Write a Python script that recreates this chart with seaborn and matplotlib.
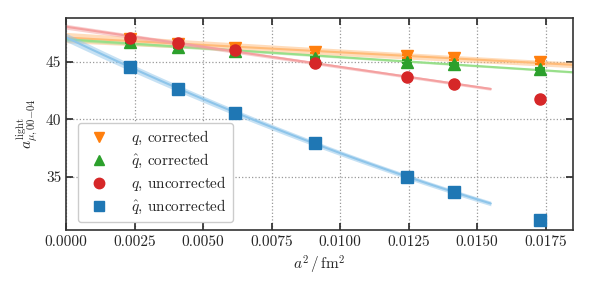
import matplotlib
matplotlib.use("Agg")
import matplotlib.pyplot as plt
import numpy as np
import seaborn as sns
from matplotlib.lines import Line2D
from matplotlib.ticker import MultipleLocator, FormatStrFormatter

# lattice spacings a^2 / fm^2
a2 = [0.00234, 0.00409, 0.00617, 0.00909, 0.01244, 0.01416, 0.01730]

# values
q_corr = [47.00, 46.52, 46.17, 45.88, 45.47, 45.31, 44.97]
qhat_corr = [46.75, 46.30, 45.96, 45.32, 45.00, 44.80, 44.38]
q_uncorr = [47.09, 46.65, 46.04, 44.90, 43.68, 43.07, 41.76]
qhat_uncorr = [44.57, 42.65, 40.57, 37.96, 35.00, 33.70, 31.26]
err = [0.12, 0.12, 0.12, 0.12, 0.12, 0.12, 0.12]

labels = [r"$q$, corrected", r"$\hat{q}$, corrected",
          r"$q$, uncorrected", r"$\hat{q}$, uncorrected"]

sns.set_style("ticks")
plt.rcParams["font.family"] = "serif"
plt.rcParams["font.serif"] = ["cmr10", "DejaVu Serif"]
plt.rcParams["mathtext.fontset"] = "cm"
plt.rcParams["axes.formatter.use_mathtext"] = True
plt.rcParams["font.size"] = 11

fig = plt.figure(figsize=(5.91, 2.92), dpi=100)
ax = fig.add_axes([0.1117, 0.2123, 0.8578, 0.7261])

a2 = np.array(a2)
# (values, colour, marker, fit colour, points in fit, fit degree, band)
series = [
    (q_corr, "tab:orange", "v", "#ffbb78", 7, 1, 0.25),
    (qhat_corr, "tab:green", "^", "#98df8a", 7, 1, 0.08),
    (q_uncorr, "tab:red", "o", "#f4a0a0", 6, 1, 0.12),
    (qhat_uncorr, "tab:blue", "s", "#8ec5ea", 6, 2, 0.2),
]

# fits (lines with bands) drawn first
for y, col, mk, lcol, npts, deg, band in series:
    y = np.array(y)
    coef = np.polyfit(a2[:npts], y[:npts], deg)
    xmax = 0.0185 if npts == 7 else 0.0155
    xf = np.linspace(0, xmax, 100)
    yf = np.polyval(coef, xf)
    w = band * (1 + 0.8 * (1 - xf / xmax) ** 2)
    ax.fill_between(xf, yf - w, yf + w, color=lcol, alpha=0.5, lw=0, zorder=2)
    sns.lineplot(x=xf, y=yf, ax=ax, color=lcol, lw=1.5, zorder=2)

for (y, col, mk, lcol, npts, deg, band), lab in zip(series, labels):
    ax.errorbar(a2, y, yerr=err, fmt=mk, color=col, ms=8, capsize=3.5,
                capthick=1.5, elinewidth=1.2, zorder=4, label=lab)

ax.set_xlim(0, 0.0185)
ax.set_ylim(30.4, 48.8)
ax.xaxis.set_major_locator(MultipleLocator(0.0025))
ax.xaxis.set_major_formatter(FormatStrFormatter("%.4f"))
ax.yaxis.set_major_locator(MultipleLocator(5))
ax.yaxis.set_major_formatter(FormatStrFormatter("%d"))
ax.tick_params(direction="in", top=True, right=True, length=5, width=1.2,
               labelsize=11)
for s in ax.spines.values():
    s.set_linewidth(1.2)
    s.set_color("#333333")
ax.grid(True, ls=":", color="#999999", lw=0.9)
ax.set_axisbelow(True)

ax.set_xlabel(r"$a^2\,/\,\mathrm{fm}^2$", fontsize=11)
ax.set_ylabel(r"$a^{\mathrm{light}}_{\mu,00{-}04}$", fontsize=11)

leg_h = [Line2D([], [], ls="", marker=s[2], color=s[1], ms=7.5) for s in series]
ax.legend(leg_h, labels, loc="lower left", fontsize=11, frameon=True,
          fancybox=True, edgecolor="#cccccc", framealpha=1,
          handletextpad=1.1, labelspacing=0.32, borderpad=0.4,
          bbox_to_anchor=(0.008, 0.0))

fig.savefig("out.png", dpi=100)
